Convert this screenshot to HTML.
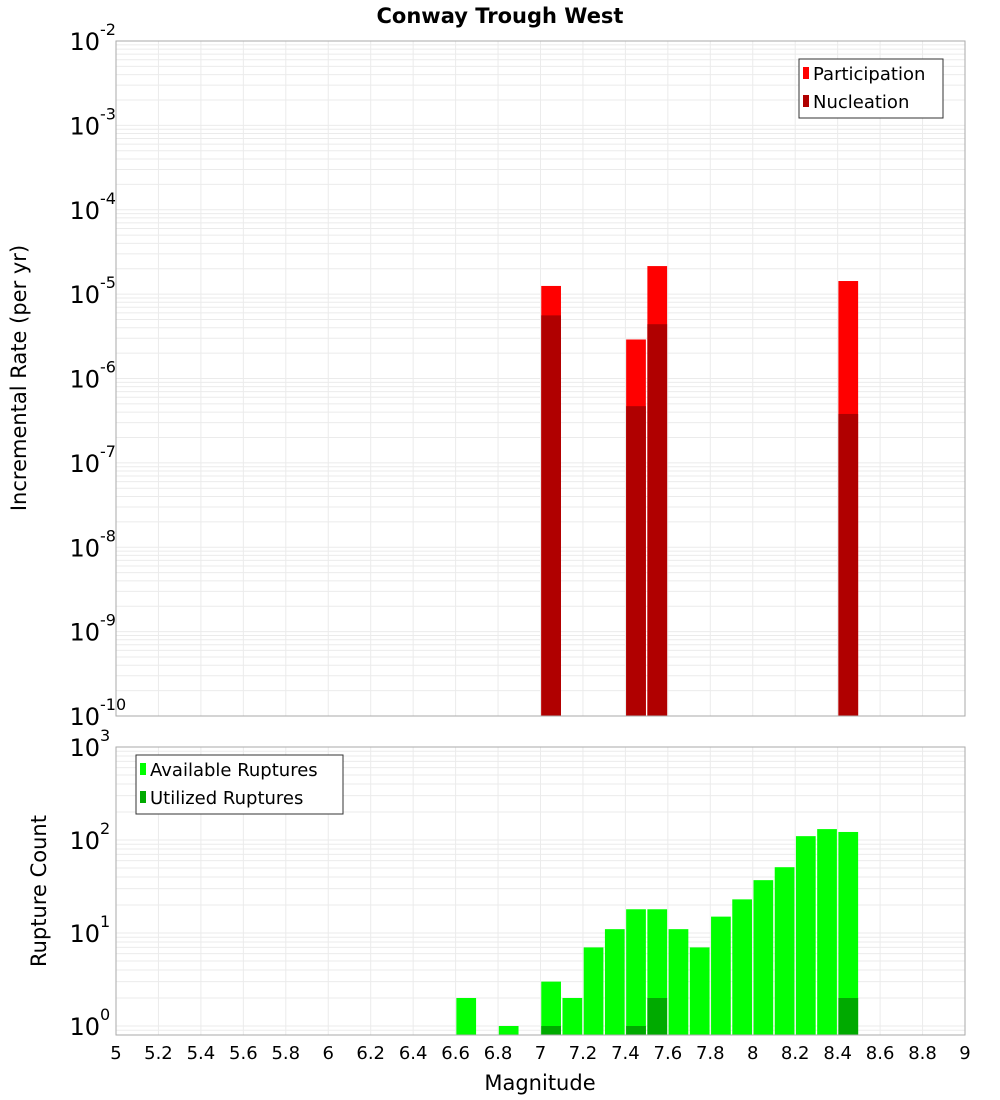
<!DOCTYPE html>
<html><head><meta charset="utf-8"><style>
html,body{margin:0;padding:0;background:#fff;}
svg{display:block;font-family:"DejaVu Sans","Liberation Sans",sans-serif;}
</style></head><body>
<svg id="chart" width="1000" height="1100" viewBox="0 0 1000 1100" xmlns="http://www.w3.org/2000/svg">
<text x="500" y="23" text-anchor="middle" font-size="21" font-weight="bold">Conway Trough West</text>
<g id="topPlot"></g>
<g id="botPlot"></g>
<text transform="translate(26,378) rotate(-90)" text-anchor="middle" font-size="21">Incremental Rate (per yr)</text>
<text transform="translate(46,891) rotate(-90)" text-anchor="middle" font-size="21">Rupture Count</text>
<text x="540" y="1090" text-anchor="middle" font-size="21">Magnitude</text>
<g>
<rect x="799" y="59" width="144" height="59" fill="#fff" stroke="#333" stroke-width="1"/>
<rect x="803" y="67" width="6" height="12" fill="#ff0000"/>
<text x="813" y="80" font-size="18">Participation</text>
<rect x="803" y="95" width="6" height="12" fill="#b00000"/>
<text x="813" y="108" font-size="18">Nucleation</text>
</g>
<g>
<rect x="136" y="755" width="207" height="59" fill="#fff" stroke="#333" stroke-width="1"/>
<rect x="140" y="763" width="6" height="12" fill="#00ff00"/>
<text x="150" y="776" font-size="18">Available Ruptures</text>
<rect x="140" y="791" width="6" height="12" fill="#00aa00"/>
<text x="150" y="804" font-size="18">Utilized Ruptures</text>
</g>
</svg>
<script>
const rateMags = [7.05, 7.45, 7.55, 8.45];
const participation = [1.25e-5, 2.9e-6, 2.15e-5, 1.43e-5];
const nucleation = [5.6e-6, 4.7e-7, 4.4e-6, 3.8e-7];
const countMags = [6.65, 6.85, 7.05, 7.15, 7.25, 7.35, 7.45, 7.55, 7.65, 7.75, 7.85, 7.95, 8.05, 8.15, 8.25, 8.35, 8.45];
const available = [2, 1, 3, 2, 7, 11, 18, 18, 11, 7, 15, 23, 37, 51, 110, 131, 122];
const utilizedMags = [7.05, 7.45, 7.55, 8.45];
const utilized = [1, 1, 2, 2];
const xTicks = [5,5.2,5.4,5.6,5.8,6,6.2,6.4,6.6,6.8,7,7.2,7.4,7.6,7.8,8,8.2,8.4,8.6,8.8,9];
const topExps = [-2,-3,-4,-5,-6,-7,-8,-9,-10];
const botExps = [3,2,1,0];

(function(){
const NS = "http://www.w3.org/2000/svg";
const L = 116, R = 965;
const X = m => L + (m - 5) / 4 * (R - L);
const topT = 41, topB = 716;
const YT = v => topT + (-2 - Math.log10(v)) / 8 * (topB - topT);
const botT = 747, botB = 1035, dec = 93;
const YB = v => 1026 - Math.log10(v) * dec;
function mk(tag, attrs, parent) {
  const e = document.createElementNS(NS, tag);
  for (const k in attrs) e.setAttribute(k, attrs[k]);
  parent.appendChild(e);
  return e;
}
function grid(g, t, b, yf, lo, hi) {
  for (let e = lo; e < hi; e++) for (let k = 1; k <= 9; k++) {
    const y = yf(k * Math.pow(10, e));
    if (y < t || y > b) continue;
    const ln = mk('line', {x1: L, x2: R, y1: y, y2: y, stroke: '#ebebeb', 'stroke-width': 1}, g);
    
    
  }
  xTicks.forEach(m => {
    const ln = mk('line', {x1: X(m), x2: X(m), y1: t, y2: b, stroke: '#ebebeb', 'stroke-width': 1}, g);
    
    
  });
}
function bars(g, mags, vals, yf, base, color, name) {
  mags.forEach((m, i) => {
    const y = yf(vals[i]);
    const r = mk('rect', {x: X(m - 0.05) + 0.75, y: y, width: X(m + 0.05) - X(m - 0.05) - 1.5, height: base - y, fill: color}, g);
    
    
  });
}
function yLabels(g, exps, yf) {
  exps.forEach(e => {
    const y = yf(Math.pow(10, e));
    const t = mk('text', {x: 100, y: y + 9, 'text-anchor': 'end', 'font-size': 24}, g);
    t.textContent = '10';
    
    
    const s = mk('text', {x: 100, y: y - 6, 'font-size': 16}, g);
    s.textContent = String(e);
    
    
  });
}
const topG = document.getElementById('topPlot');
grid(topG, topT, topB, YT, -10, -2);
bars(topG, rateMags, participation, YT, topB, '#ff0000', 'participation-bar');
bars(topG, rateMags, nucleation, YT, topB, '#b00000', 'nucleation-bar');
mk('rect', {x: L, y: topT, width: R - L, height: topB - topT, fill: 'none', stroke: '#aaa', 'stroke-width': 1}, topG);
yLabels(topG, topExps, YT);

const botG = document.getElementById('botPlot');
grid(botG, botT, botB, YB, -1, 3);
bars(botG, countMags, available, YB, botB, '#00ff00', 'available-bar');
bars(botG, utilizedMags, utilized, YB, botB, '#00aa00', 'utilized-bar');
mk('rect', {x: L, y: botT, width: R - L, height: botB - botT, fill: 'none', stroke: '#aaa', 'stroke-width': 1}, botG);
yLabels(botG, botExps, YB);
xTicks.forEach(m => {
  const t = mk('text', {x: X(m), y: 1059, 'text-anchor': 'middle', 'font-size': 18}, botG);
  t.textContent = String(m);
  
  
});
})();
</script>
</body></html>
